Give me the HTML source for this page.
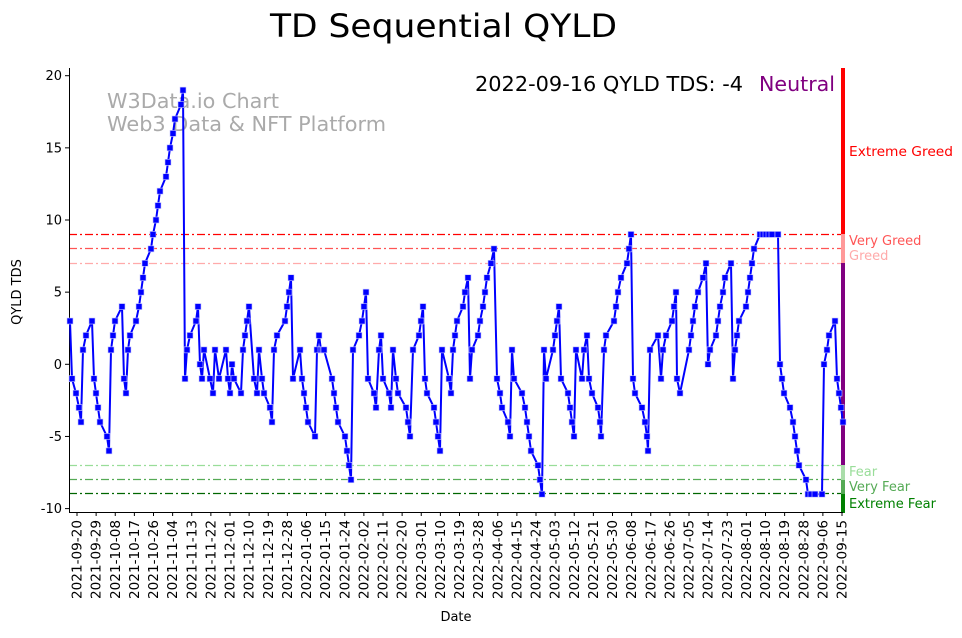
<!DOCTYPE html>
<html><head><meta charset="utf-8"><style>
body{margin:0;background:#fff;}
svg text{font-family:"DejaVu Sans","Liberation Sans",sans-serif;}
</style></head><body>
<svg id="s" width="962" height="633" xmlns="http://www.w3.org/2000/svg">
<rect width="962" height="633" fill="#fff"/>
<text x="270" y="37" font-size="32" textLength="347" lengthAdjust="spacingAndGlyphs">TD Sequential QYLD</text>
<text x="107" y="108" font-size="20" fill="#aaa" textLength="172" lengthAdjust="spacingAndGlyphs">W3Data.io Chart</text>
<text x="107" y="131" font-size="20" fill="#aaa" textLength="279" lengthAdjust="spacingAndGlyphs">Web3 Data &amp; NFT Platform</text>
<text x="475" y="91" font-size="20" textLength="268" lengthAdjust="spacingAndGlyphs">2022-09-16 QYLD TDS: -4</text>
<text x="759" y="91" font-size="20" fill="purple" textLength="76" lengthAdjust="spacingAndGlyphs">Neutral</text>
<g stroke-dasharray="8,3,2,3" stroke-width="1.2">
<line x1="69" x2="843" y1="234.5" y2="234.5" stroke="#ff0000"/>
<line x1="69" x2="843" y1="248.5" y2="248.5" stroke="#ff5555"/>
<line x1="69" x2="843" y1="263.5" y2="263.5" stroke="#ffaaaa"/>
<line x1="69" x2="843" y1="465.5" y2="465.5" stroke="#99dd99"/>
<line x1="69" x2="843" y1="479.5" y2="479.5" stroke="#55aa55"/>
<line x1="69" x2="843" y1="493.5" y2="493.5" stroke="#006600"/>
</g>
<rect x="841" y="68" width="4" height="166" fill="#ff0000"/>
<rect x="841" y="234" width="4" height="29" fill="#ff9999"/>
<rect x="841" y="263" width="4" height="202" fill="purple"/>
<rect x="841" y="465" width="4" height="15" fill="#aaddaa"/>
<rect x="841" y="480" width="4" height="14" fill="#55aa55"/>
<rect x="841" y="494" width="4" height="19" fill="green"/>
<g font-size="13">
<text x="849" y="156" fill="red" textLength="104" lengthAdjust="spacingAndGlyphs">Extreme Greed</text>
<text x="849" y="245" fill="#ff5555">Very Greed</text>
<text x="849" y="260" fill="#ffaaaa">Greed</text>
<text x="849" y="476" fill="#99dd99">Fear</text>
<text x="849" y="491" fill="#55aa55">Very Fear</text>
<text x="849" y="508" fill="green">Extreme Fear</text>
</g>
<line x1="69.5" y1="68" x2="69.5" y2="512.5" stroke="#000"/>
<line x1="69" y1="512.5" x2="843" y2="512.5" stroke="#000"/>
<g id="ticks" font-size="13"></g>
<text x="456" y="621" font-size="13" text-anchor="middle">Date</text>
<text transform="translate(21,292) rotate(-90)" font-size="13" text-anchor="middle">QYLD TDS</text>
<g id="ser"></g>
</svg>
<script>
var NS="http://www.w3.org/2000/svg";
function el(t,a,p){var e=document.createElementNS(NS,t);for(var k in a)e.setAttribute(k,a[k]);p.appendChild(e);return e;}
var tk=document.getElementById("ticks");
function Y(v){return 364.3-14.43*v;}
[20,15,10,5,0,-5,-10].forEach(function(v){var y=Y(v);el("line",{x1:65,x2:69,y1:y,y2:y,stroke:"#000"},tk);var t=el("text",{x:62,y:y+4.5,"text-anchor":"end"},tk);t.textContent=v;});
var d0=new Date(Date.UTC(2021,8,20));
for(var i=0;i<41;i++){var x=77+i*19.125;var d=new Date(d0.getTime()+i*9*864e5);var s=d.toISOString().slice(0,10);
el("line",{x1:x,x2:x,y1:512,y2:516,stroke:"#000"},tk);var t=el("text",{transform:"translate("+(x+4.5)+",520) rotate(-90)","text-anchor":"end",textLength:79,lengthAdjust:"spacingAndGlyphs"},tk);t.textContent=s;}
var P=[[70,3],[72,-1],[76,-2],[79,-3],[81,-4],[83,1],[86,2],[92,3],[94,-1],[96,-2],[98,-3],[100,-4],[107,-5],[109,-6],[111,1],[113,2],[115,3],[122,4],[124,-1],[126,-2],[128,1],[130,2],[136,3],[139,4],[141,5],[143,6],[145,7],[151,8],[153,9],[156,10],[158,11],[160,12],[166,13],[168,14],[170,15],[173,16],[175,17],[181,18],[183,19],[185,-1],[187,1],[190,2],[196,3],[198,4],[200,0],[202,-1],[204,1],[210,-1],[213,-2],[215,1],[219,-1],[226,1],[228,-1],[230,-2],[232,0],[234,-1],[241,-2],[243,1],[245,2],[247,3],[249,4],[254,-1],[257,-2],[259,1],[262,-1],[264,-2],[270,-3],[272,-4],[274,1],[277,2],[285,3],[287,4],[289,5],[291,6],[293,-1],[300,1],[302,-1],[304,-2],[306,-3],[308,-4],[315,-5],[317,1],[319,2],[321,1],[323,1],[324,1],[332,-1],[334,-2],[336,-3],[338,-4],[345,-5],[347,-6],[349,-7],[351,-8],[353,1],[359,2],[362,3],[364,4],[366,5],[368,-1],[374,-2],[376,-3],[379,1],[381,2],[383,-1],[389,-2],[391,-3],[393,1],[396,-1],[398,-2],[406,-3],[408,-4],[410,-5],[413,1],[419,2],[421,3],[423,4],[425,-1],[427,-2],[434,-3],[436,-4],[438,-5],[440,-6],[442,1],[449,-1],[451,-2],[453,1],[455,2],[457,3],[463,4],[465,5],[468,6],[470,-1],[472,1],[478,2],[480,3],[483,4],[485,5],[487,6],[491,7],[494,8],[497,-1],[500,-2],[502,-3],[508,-4],[510,-5],[512,1],[514,-1],[522,-2],[525,-3],[527,-4],[529,-5],[531,-6],[538,-7],[540,-8],[542,-9],[544,1],[546,-1],[553,1],[555,2],[557,3],[559,4],[561,-1],[568,-2],[570,-3],[572,-4],[574,-5],[576,1],[582,-1],[584,1],[587,2],[589,-1],[592,-2],[598,-3],[600,-4],[601,-5],[604,1],[606,2],[614,3],[616,4],[618,5],[621,6],[627,7],[629,8],[631,9],[633,-1],[635,-2],[642,-3],[645,-4],[647,-5],[648,-6],[650,1],[658,2],[661,-1],[663,1],[666,2],[672,3],[674,4],[676,5],[677,-1],[680,-2],[689,1],[691,2],[693,3],[695,4],[698,5],[703,6],[706,7],[708,0],[710,1],[716,2],[718,3],[720,4],[723,5],[725,6],[731,7],[733,-1],[735,1],[737,2],[739,3],[746,4],[748,5],[750,6],[752,7],[754,8],[760,9],[763,9],[766,9],[769,9],[772,9],[778,9],[780,0],[782,-1],[784,-2],[790,-3],[793,-4],[795,-5],[797,-6],[799,-7],[806,-8],[808,-9],[811,-9],[815,-9],[822,-9],[824,0],[827,1],[829,2],[835,3],[837,-1],[839,-2],[841,-3],[843,-4]];
var g=document.getElementById("ser");
el("polyline",{points:P.map(function(p){return p[0]+","+Y(p[1]).toFixed(1);}).join(" "),fill:"none",stroke:"#0000ff","stroke-width":2},g);
P.forEach(function(p){el("rect",{x:p[0]-3,y:Y(p[1])-3,width:6,height:6,fill:"#0000ff",stroke:"#c8c8ff","stroke-width":0.6},g);});
</script>
</body></html>
